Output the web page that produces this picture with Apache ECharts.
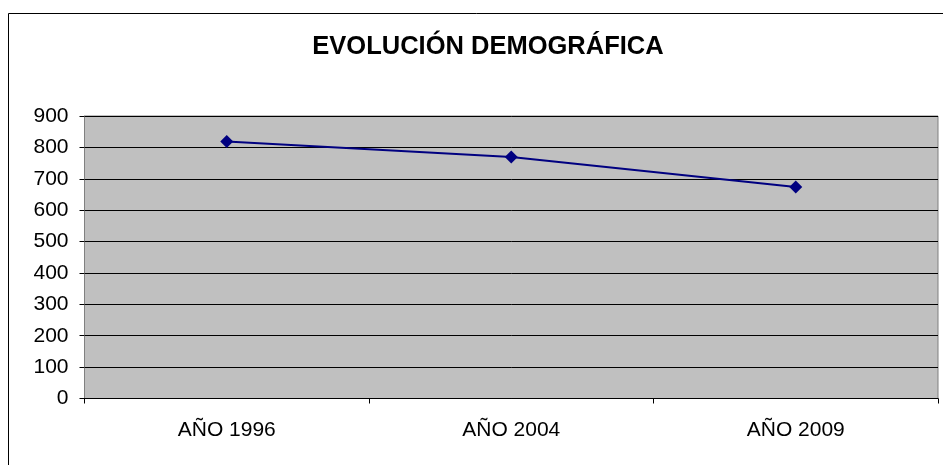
<!DOCTYPE html>
<html>
<head>
<meta charset="utf-8">
<script src="https://cdn.jsdelivr.net/npm/echarts@6/dist/echarts.min.js"></script>
<style>
  html, body { margin: 0; padding: 0; background: #fff; }
  #chart { width: 943px; height: 465px; }
</style>
</head>
<body>
<div id="chart"></div>
<script>
const title = 'EVOLUCIÓN DEMOGRÁFICA'
const categories = ['AÑO 1996', 'AÑO 2004', 'AÑO 2009']
const population = [819, 769, 674]
const yTicks = { min: 0, max: 900, interval: 100 }

const chart = echarts.init(document.getElementById('chart'))
const font = '"Liberation Sans", Arial, sans-serif'

chart.setOption({
  backgroundColor: '#fff',
  animation: false,
  title: {
    text: title,
    left: 483,
    top: 29,
    textAlign: 'center',
    textStyle: { fontFamily: font, fontSize: 25.5, fontWeight: 'bold', color: '#000' }
  },
  graphic: [{
    type: 'rect',
    shape: { x: 8.5, y: 13.5, width: 1000, height: 600 },
    style: { fill: 'none', stroke: '#000', lineWidth: 1 },
    z: 100
  }],
  grid: {
    left: 84.5, right: 5, top: 116, bottom: 66.5,
    show: true,
    backgroundColor: '#c0c0c0',
    borderColor: '#808080',
    borderWidth: 1
  },
  xAxis: {
    type: 'category',
    data: categories,
    boundaryGap: true,
    axisLine: { lineStyle: { color: '#000', width: 1 } },
    axisTick: { show: true, length: 5, lineStyle: { color: '#000' } },
    axisLabel: { fontFamily: font, fontSize: 21, color: '#000', margin: 21 }
  },
  yAxis: {
    type: 'value',
    min: yTicks.min,
    max: yTicks.max,
    interval: yTicks.interval,
    axisLine: { show: true, lineStyle: { color: '#808080', width: 1 } },
    axisTick: { show: true, length: 5, lineStyle: { color: '#000' } },
    splitLine: { lineStyle: { color: '#000', width: 1 } },
    axisLabel: { fontFamily: font, fontSize: 21, color: '#000', margin: 16 }
  },
  series: [{
    type: 'line',
    data: population,
    symbol: 'diamond',
    symbolSize: 13,
    itemStyle: { color: '#000080' },
    lineStyle: { color: '#000080', width: 2 }
  }]
})
</script>
</body>
</html>
